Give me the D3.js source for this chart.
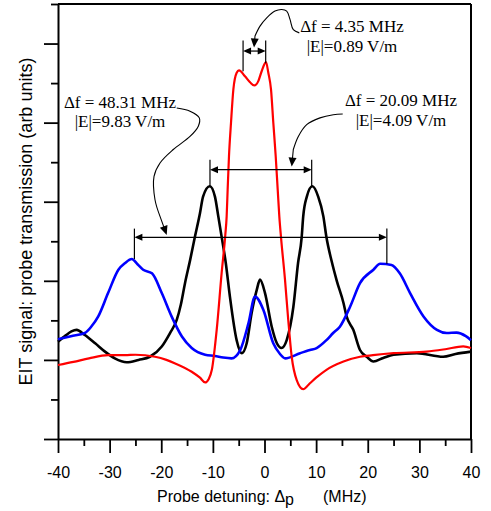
<!DOCTYPE html>
<html>
<head>
<meta charset="utf-8">
<script src="https://cdn.jsdelivr.net/npm/d3@7"></script>
<style>
  html, body { margin: 0; padding: 0; background: #fff; }
  svg { display: block; }
</style>
</head>
<body>
<svg id="chart" width="491" height="511"></svg>
<script>
// ---- data: [probe detuning (MHz), signal (arb units)] ----
const xTickValues = [-40, -30, -20, -10, 0, 10, 20, 30, 40];
const xTickLabels = ["-40", "-30", "-20", "-10", "0", "10", "20", "30", "40"];
const xMinorTickValues = [-35, -25, -15, -5, 5, 15, 25, 35];
const yMajorTickValues = [0, 2, 4, 6, 8, 10];
const yMinorTickValues = [1, 3, 5, 7, 9, 11];

const redSeries = [
  [-40, 1.87], [-37, 1.95], [-34, 2.04], [-30.3, 2.12], [-27, 2.12], [-25, 2.13],
  [-21.2, 2.08], [-19, 2.0], [-17.3, 1.91], [-14.1, 1.7], [-12.5, 1.55], [-11.5, 1.43],
  [-10.8, 1.52], [-10.2, 1.75], [-9.26, 2.76], [-8.3, 4.2], [-7.6, 5.15], [-7.33, 5.63],
  [-7.14, 6.3], [-6.88, 7.15], [-6.49, 7.99], [-6.03, 8.84], [-5.39, 9.26], [-4.94, 9.32],
  [-3.78, 9.17], [-2.8, 9.02], [-1.97, 8.94], [-1.2, 9.05], [-0.55, 9.3], [0.29, 9.53],
  [0.74, 9.26], [1.26, 8.84], [1.71, 7.99], [2.17, 7.15], [2.56, 6.3], [2.87, 5.63],
  [3.2, 5.1], [3.97, 4.03], [4.6, 3.01], [5.27, 2.08], [6.24, 1.49], [7.5, 1.26],
  [8.8, 1.41], [10, 1.55], [12, 1.75], [15.3, 1.96], [18.5, 2.08], [21, 2.12],
  [25, 2.17], [31.4, 2.21], [35, 2.27], [38.5, 2.34], [40, 2.3]
];

const blackSeries = [
  [-40, 2.46], [-38.5, 2.62], [-37.4, 2.72], [-36.4, 2.76], [-34.8, 2.63], [-32.8, 2.42],
  [-30.9, 2.21], [-29, 2.04], [-26.7, 1.94], [-24.4, 2.0], [-22.2, 2.08], [-19.9, 2.34],
  [-18.3, 2.68], [-17, 3.01], [-16.2, 3.4], [-15.4, 3.94], [-14.4, 4.53], [-13.5, 5.1],
  [-12.5, 5.71], [-11.9, 6.13], [-10.6, 6.39], [-9.6, 6.13], [-8.95, 5.63], [-8.35, 5.15],
  [-7.5, 4.45], [-6.7, 3.6], [-5.4, 2.5], [-4.4, 2.17], [-3.45, 2.42], [-2.5, 3.18],
  [-1.5, 3.77], [-0.87, 4.03], [0.1, 3.69], [1.4, 2.84], [2.4, 2.42], [3.3, 2.3],
  [4.3, 2.5], [5.6, 3.35], [6.5, 4.45], [7.2, 5.1], [7.5, 5.63], [8.2, 6.13],
  [9.27, 6.39], [10.4, 6.13], [11.4, 5.63], [12, 5.1], [13, 4.5], [14, 4.0],
  [15.3, 3.44], [15.9, 3.1], [17.2, 2.76], [18.5, 2.25], [19.8, 2.08], [21.1, 1.96],
  [23, 2.05], [25, 2.13], [29.5, 2.17], [34.6, 2.08], [37, 2.15], [40, 2.21]
];

const blueSeries = [
  [-40, 2.52], [-37.5, 2.6], [-34.8, 2.68], [-33.5, 2.85], [-32.2, 3.1], [-30.3, 3.69],
  [-28.3, 4.28], [-27, 4.45], [-25.7, 4.55], [-24.6, 4.42], [-23.5, 4.28], [-21.8, 4.19],
  [-19.9, 3.69], [-18, 3.1], [-16, 2.59], [-14.1, 2.3], [-11.5, 2.13], [-9.6, 2.1],
  [-8, 2.06], [-6.4, 2.04], [-4.7, 2.25], [-3.1, 2.93], [-1.84, 3.6], [-0.23, 3.27],
  [1.7, 2.42], [3, 2.15], [4, 2.04], [6.9, 2.17], [8.8, 2.25], [10.1, 2.3],
  [12, 2.5], [13.3, 2.68], [14.6, 2.84], [16.6, 3.35], [18.5, 3.94], [21.1, 4.28],
  [22.4, 4.43], [24.6, 4.4], [26.2, 4.19], [28.2, 3.69], [30.8, 3.1], [33.4, 2.76],
  [35.3, 2.68], [37.2, 2.69], [39, 2.6], [40, 2.5]
];

// annotations: splitting widths (MHz) and fields
const annotationLines = [
  ["\u0394f = 4.35 MHz", "|E|=0.89 V/m"],
  ["\u0394f = 20.09 MHz", "|E|=4.09 V/m"],
  ["\u0394f = 48.31 MHz", "|E|=9.83 V/m"]
];

// ---- layout ----
const svg = d3.select("#chart");
const margin = { left: 58, right: 20, top: 4, bottom: 72 };
const W = 491, H = 511;
const x = d3.scaleLinear().domain([-40, 40]).range([margin.left, W - margin.right]);
const y = d3.scaleLinear().domain([0, 11]).range([H - margin.bottom, margin.top]);

const sans = "'Liberation Sans', Arial, sans-serif";
const serif = "'Liberation Serif', 'Times New Roman', serif";

// frame: top and right
svg.append("line").attr("x1", x(-40)).attr("x2", x(40)).attr("y1", y(11)).attr("y2", y(11))
  .attr("stroke", "#000").attr("stroke-width", 2);
svg.append("line").attr("x1", x(40)).attr("x2", x(40)).attr("y1", y(11)).attr("y2", y(0))
  .attr("stroke", "#000").attr("stroke-width", 2);

// x axis
const gx = svg.append("g").attr("transform", `translate(0,${y(0)})`)
  .call(d3.axisBottom(x).tickValues(xTickValues).tickSize(14).tickSizeOuter(0).tickPadding(13.5)
    .tickFormat((d, i) => xTickLabels[i]));
const gxm = svg.append("g").attr("transform", `translate(0,${y(0)})`)
  .call(d3.axisBottom(x).tickValues(xMinorTickValues).tickSize(7).tickSizeOuter(0).tickFormat(""));
gxm.select(".domain").remove();

// y axis
const gy = svg.append("g").attr("transform", `translate(${x(-40)},0)`)
  .call(d3.axisLeft(y).tickValues(yMajorTickValues).tickSize(14).tickSizeOuter(0).tickFormat(""));
const gym = svg.append("g").attr("transform", `translate(${x(-40)},0)`)
  .call(d3.axisLeft(y).tickValues(yMinorTickValues).tickSize(7).tickSizeOuter(0).tickFormat(""));
gym.select(".domain").remove();

[gx, gxm, gy, gym].forEach(g => {
  g.selectAll(".domain").attr("stroke", "#000").attr("stroke-width", 2);
  g.selectAll(".tick line").attr("stroke", "#000").attr("stroke-width", 1.8);
  g.selectAll(".tick text").attr("font-family", sans).attr("font-size", 16).attr("fill", "#000");
});

// axis titles
const xt = svg.append("text").attr("x", 157).attr("y", 502)
  .attr("font-family", sans).attr("font-size", 16).attr("fill", "#000");
xt.append("tspan").text("Probe detuning: \u0394");
xt.append("tspan").attr("dy", 3).text("p");
xt.append("tspan").attr("x", 323).attr("dy", -3).text("(MHz)");

svg.append("text")
  .attr("transform", `translate(32,${(y(0) + y(11)) / 2}) rotate(-90)`)
  .attr("text-anchor", "middle")
  .attr("font-family", sans).attr("font-size", 18).attr("fill", "#000")
  .text("EIT signal: probe transmission (arb units)");

// curves
const line = d3.line().x(d => x(d[0])).y(d => y(d[1])).curve(d3.curveMonotoneX);
const curves = [
  { data: blackSeries, color: "#000000", w: 2.6 },
  { data: blueSeries, color: "#0000ff", w: 2.6 },
  { data: redSeries, color: "#ff0000", w: 2.2 }
];
curves.forEach(c => {
  svg.append("path").datum(c.data).attr("d", line)
    .attr("fill", "none").attr("stroke", c.color).attr("stroke-width", c.w)
    .attr("stroke-linejoin", "round");
});

// ---- annotations ----
function arrowHead(tip, from, len, half) {
  const dx = tip[0] - from[0], dy = tip[1] - from[1];
  const L = Math.hypot(dx, dy), ux = dx / L, uy = dy / L;
  const bx = tip[0] - ux * len, by = tip[1] - uy * len;
  return `M${tip[0]},${tip[1]}L${bx - uy * half},${by + ux * half}L${bx + uy * half},${by - ux * half}Z`;
}

// brackets: [left d, right d, top v, bar v, left bottom v, right bottom v]
const brackets = [
  [-4.15, 0.23, 10.08, 9.81, 9.3, 9.5],
  [-10.56, 9.14, 7.06, 6.81, 6.4, 6.4],
  [-25.2, 23.7, 5.32, 5.1, 4.55, 4.43]
];
brackets.forEach(b => {
  const [l, r, top, bar, lb, rb] = b;
  const g = svg.append("g").attr("stroke", "#000").attr("stroke-width", 1.2);
  g.append("line").attr("x1", x(l)).attr("x2", x(l)).attr("y1", y(top)).attr("y2", y(lb));
  g.append("line").attr("x1", x(r)).attr("x2", x(r)).attr("y1", y(top)).attr("y2", y(rb));
  g.append("line").attr("x1", x(l) + 4).attr("x2", x(r) - 4).attr("y1", y(bar)).attr("y2", y(bar));
  svg.append("path").attr("d", arrowHead([x(l), y(bar)], [x(r), y(bar)], 8, 3.5)).attr("fill", "#000");
  svg.append("path").attr("d", arrowHead([x(r), y(bar)], [x(l), y(bar)], 8, 3.5)).attr("fill", "#000");
});

// curved pointer arrows (detuning, value)
const pointers = [
  [[6.74, 10.27], [5.58, 10.35], [4.94, 10.61], [4.3, 10.82], [3.33, 10.86], [2.03, 10.82],
   [0.43, 10.65], [-0.87, 10.44], [-1.84, 10.19], [-2.03, 9.9]],
  [[15.15, 8.22], [13.33, 8.2], [10.75, 8.12], [8.17, 7.95], [6.55, 7.65], [5.58, 7.32], [5.27, 6.89]],
  [[-17.0, 8.37], [-14.43, 8.29], [-12.63, 8.12], [-12.82, 7.91], [-14.43, 7.65], [-17.67, 7.32],
   [-20.24, 6.98], [-21.4, 6.64], [-21.21, 6.05], [-20.24, 5.63], [-18.94, 5.16]]
];
const pline = d3.line().x(d => x(d[0])).y(d => y(d[1])).curve(d3.curveCatmullRom.alpha(0.5));
pointers.forEach(p => {
  const pts = p.slice(0, -1);
  const tip = p[p.length - 1];
  const prev = p[p.length - 2];
  const tipPx = [x(tip[0]), y(tip[1])], prevPx = [x(prev[0]), y(prev[1])];
  const dx = tipPx[0] - prevPx[0], dy = tipPx[1] - prevPx[1], L = Math.hypot(dx, dy);
  const base = [tipPx[0] - dx / L * 7, tipPx[1] - dy / L * 7];
  svg.append("path").attr("d", pline(pts) + `L${base[0]},${base[1]}`)
    .attr("fill", "none").attr("stroke", "#000").attr("stroke-width", 1.1);
  svg.append("path").attr("d", arrowHead(tipPx, prevPx, 9, 4)).attr("fill", "#000");
});

// annotation text: [center d, line1 v, line2 v]
const labelPos = [[16.95, 10.28, 9.78], [26.44, 8.41, 7.91], [-27.99, 8.38, 7.89]];
annotationLines.forEach((lines, i) => {
  const [cd, v1, v2] = labelPos[i];
  [v1, v2].forEach((v, j) => {
    svg.append("text").attr("x", x(cd)).attr("y", y(v))
      .attr("text-anchor", "middle").attr("font-family", serif).attr("font-size", 17)
      .attr("fill", "#000").text(lines[j]);
  });
});
</script>
</body>
</html>
